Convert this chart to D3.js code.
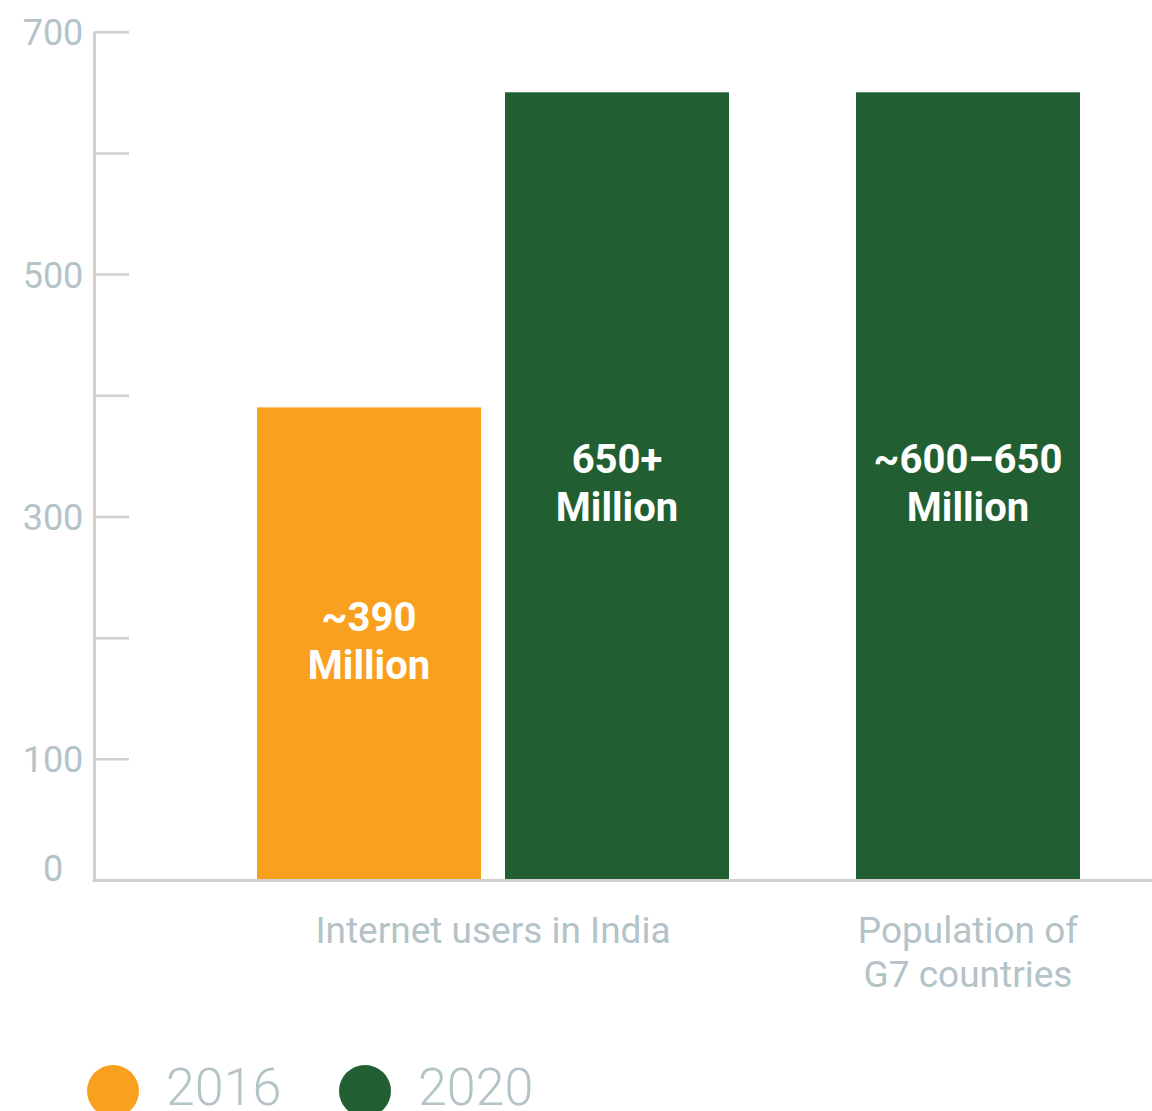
<!DOCTYPE html>
<html>
<head>
<meta charset="utf-8">
<script src="https://cdn.jsdelivr.net/npm/d3@7"></script>
<style>
  html, body { margin: 0; padding: 0; background: #ffffff; }
  svg { display: block; font-family: Roboto, "Noto Sans", sans-serif; }
</style>
</head>
<body>
<svg id="chart" width="1152" height="1111"></svg>
<script>
// Data
const categories = ["Internet users in India", "Population of G7 countries"];
const categoryLines = [["Internet users in India"], ["Population of", "G7 countries"]];
const seriesNames = ["2016", "2020"];
const values2016 = [390, null];
const values2020 = [650, 650];
const labels2016 = [["~390", "Million"], null];
const labels2020 = [["650+", "Million"], ["~600\u2013650", "Million"]];
const tickValues = [0, 100, 200, 300, 400, 500, 600, 700];
const labeledTicks = [0, 100, 300, 500, 700];

const colors = { "2016": "#f9a01f", "2020": "#215f33" };
const axisColor = "#d0d0d0";
const textGrey = "#b3c3c8";

const svg = d3.select("#chart");
const axisX = 94;
const y = d3.scaleLinear().domain([0, 700]).range([880, 31.7]);

// Group centres along the horizontal axis
const x0 = d3.scalePoint().domain(categories).range([493, 968]);

// Flatten series into bar records; each bar occupies a 248px step with a 24px gap
const seriesValues = { "2016": values2016, "2020": values2020 };
const seriesLabels = { "2016": labels2016, "2020": labels2020 };
const bars = [];
categories.forEach((cat, i) => {
  const keys = seriesNames.filter(s => seriesValues[s][i] != null);
  const step = 248, gap = 24;
  const span = keys.length * step;
  const c = x0(cat);
  const x1 = d3.scaleBand().domain(keys)
    .range([c - span / 2, c + span / 2])
    .paddingInner(gap / step).paddingOuter(gap / step / 2);
  keys.forEach(k => {
    bars.push({ cat, key: k, value: seriesValues[k][i], label: seriesLabels[k][i],
                x: x1(k), w: x1.bandwidth() });
  });
});

// Bars
svg.append("g").selectAll("rect").data(bars).join("rect")
  .attr("x", d => d.x)
  .attr("y", d => y(d.value))
  .attr("width", d => d.w)
  .attr("height", d => y(0) - y(d.value))
  .attr("fill", d => colors[d.key]);

// Value labels, centred in each bar
const lbl = svg.append("g").selectAll("text").data(bars).join("text")
  .attr("text-anchor", "middle")
  .attr("fill", "#ffffff")
  .attr("font-weight", 700)
  .attr("font-size", 40);
lbl.each(function (d) {
  const mid = (y(d.value) + y(0)) / 2;
  const t = d3.select(this);
  d.label.forEach((line, j) => {
    t.append("tspan")
      .attr("x", d.x + d.w / 2)
      .attr("y", mid - 13 + j * 48)
      .text(line);
  });
});

// Y axis with inward ticks
const yAxis = d3.axisLeft(y)
  .tickValues(tickValues)
  .tickSize(-35)
  .tickSizeOuter(0)
  .tickFormat(d => labeledTicks.includes(d) ? d : "");
const gy = svg.append("g").attr("transform", `translate(${axisX},0)`).call(yAxis);
gy.select(".domain").attr("stroke", axisColor).attr("stroke-width", 3);
gy.selectAll(".tick line").attr("stroke", axisColor).attr("stroke-width", 2.5);
gy.selectAll(".tick text")
  .attr("x", -41)
  .attr("text-anchor", "middle")
  .attr("fill", textGrey)
  .attr("font-size", 36)
  .attr("font-family", "Roboto, sans-serif")
  .attr("dy", d => d === 0 ? "0em" : "0.36em");

// Baseline
svg.append("line")
  .attr("x1", axisX - 1.5).attr("x2", 1152)
  .attr("y1", y(0) + 0.5).attr("y2", y(0) + 0.5)
  .attr("stroke", axisColor).attr("stroke-width", 3);

// Category labels
svg.append("g").selectAll("text").data(categories).join("text")
  .attr("text-anchor", "middle")
  .attr("fill", textGrey)
  .attr("font-size", 37)
  .each(function (cat, i) {
    const t = d3.select(this);
    categoryLines[i].forEach((line, j) => {
      t.append("tspan").attr("x", x0(cat)).attr("y", 943 + j * 44).text(line);
    });
  });

// Legend
const legendX = d3.scalePoint().domain(seriesNames).range([113, 365]);
const lg = svg.append("g").selectAll("g").data(seriesNames).join("g")
  .attr("transform", d => `translate(${legendX(d)},1091)`);
lg.append("circle").attr("r", 26).attr("fill", d => colors[d]);
lg.append("text")
  .attr("x", 53).attr("y", 14)
  .attr("fill", textGrey)
  .attr("font-size", 52)
  .attr("font-weight", 300)
  .text(d => d);
</script>
</body>
</html>
